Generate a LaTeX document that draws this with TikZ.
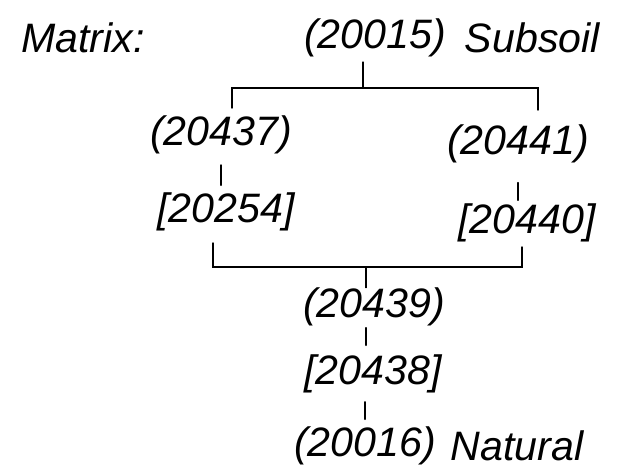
\documentclass[tikz,border=0pt]{standalone}
\usepackage{fontspec}
\newfontfamily\handfont{Liberation Sans}
\usepackage{tikz}
\usetikzlibrary{positioning}
\newcommand{\hand}{\fontsize{31}{34}\selectfont\handfont\itshape}
\tikzset{
  unit/.style={font=\hand, inner sep=0pt},
  link/.style={line width=1.1pt, line cap=round},
}

\begin{document}
\begin{tikzpicture}[x=0.0265cm, y=-0.0265cm]
\useasboundingbox (0,0) rectangle (624,471);

% ---------------- title and top unit -------------------------------------
\node[unit] (title) at (83,38) {Matrix:};
\node[unit] (u20015) at (375,38) {(20015)};
\node[unit, right=14pt of u20015] (subsoil) {Subsoil};

% ---------------- the two branches ---------------------------------------
\node[unit] (u20437) at (221,135) {(20437)};
\node[unit] (u20254) at (226,212) {[20254]};
\node[unit] (u20441) at (518,144) {(20441)};
\node[unit] (u20440) at (527,223) {[20440]};

% ---------------- the lower sequence -------------------------------------
\node[unit] (u20439) at (374,307) {(20439)};
\node[unit] (u20438) at (373,374) {[20438]};
\node[unit] (u20016) at (365,446) {(20016)};
\node[unit, right=11pt of u20016] (natural) {Natural};

% bracket coordinates
\coordinate (topbar) at (363,88);
\coordinate (topL) at (232,88);
\coordinate (topR) at (538,88);
\coordinate (topLend) at (232,108);
\coordinate (topRend) at (538,110);
\coordinate (lowbar) at (366,267);
\coordinate (lowL) at (213,267);
\coordinate (lowR) at (522,267);
\coordinate (lowLend) at (213,243);
\coordinate (lowRend) at (522,247);

% ---------------- connectors ---------------------------------------------
\draw[link, shorten <=3.5pt] (u20015.south -| topbar) -- (topbar);
\draw[link] (topLend) -- (topL) -- (topR) -- (topRend);
\draw[link, shorten <=8pt, shorten >=5.5pt] (u20437.south) -- (u20437.south |- u20254.north);
\draw[link, shorten <=14.5pt, shorten >=2.5pt] (u20441.south) -- (u20441.south |- u20440.north);
\draw[link] (lowLend) -- (lowL) -- (lowR) -- (lowRend);
\draw[link] (lowbar) -- (lowbar |- u20439.north);
\draw[link, shorten <=1pt, shorten >=7pt] (u20439.south -| lowbar) -- (lowbar |- u20438.north);
\draw[link, shorten <=6.4pt, shorten >=5.5pt] (u20438.south -| u20016) -- (u20016.north);
\end{tikzpicture}
\end{document}
